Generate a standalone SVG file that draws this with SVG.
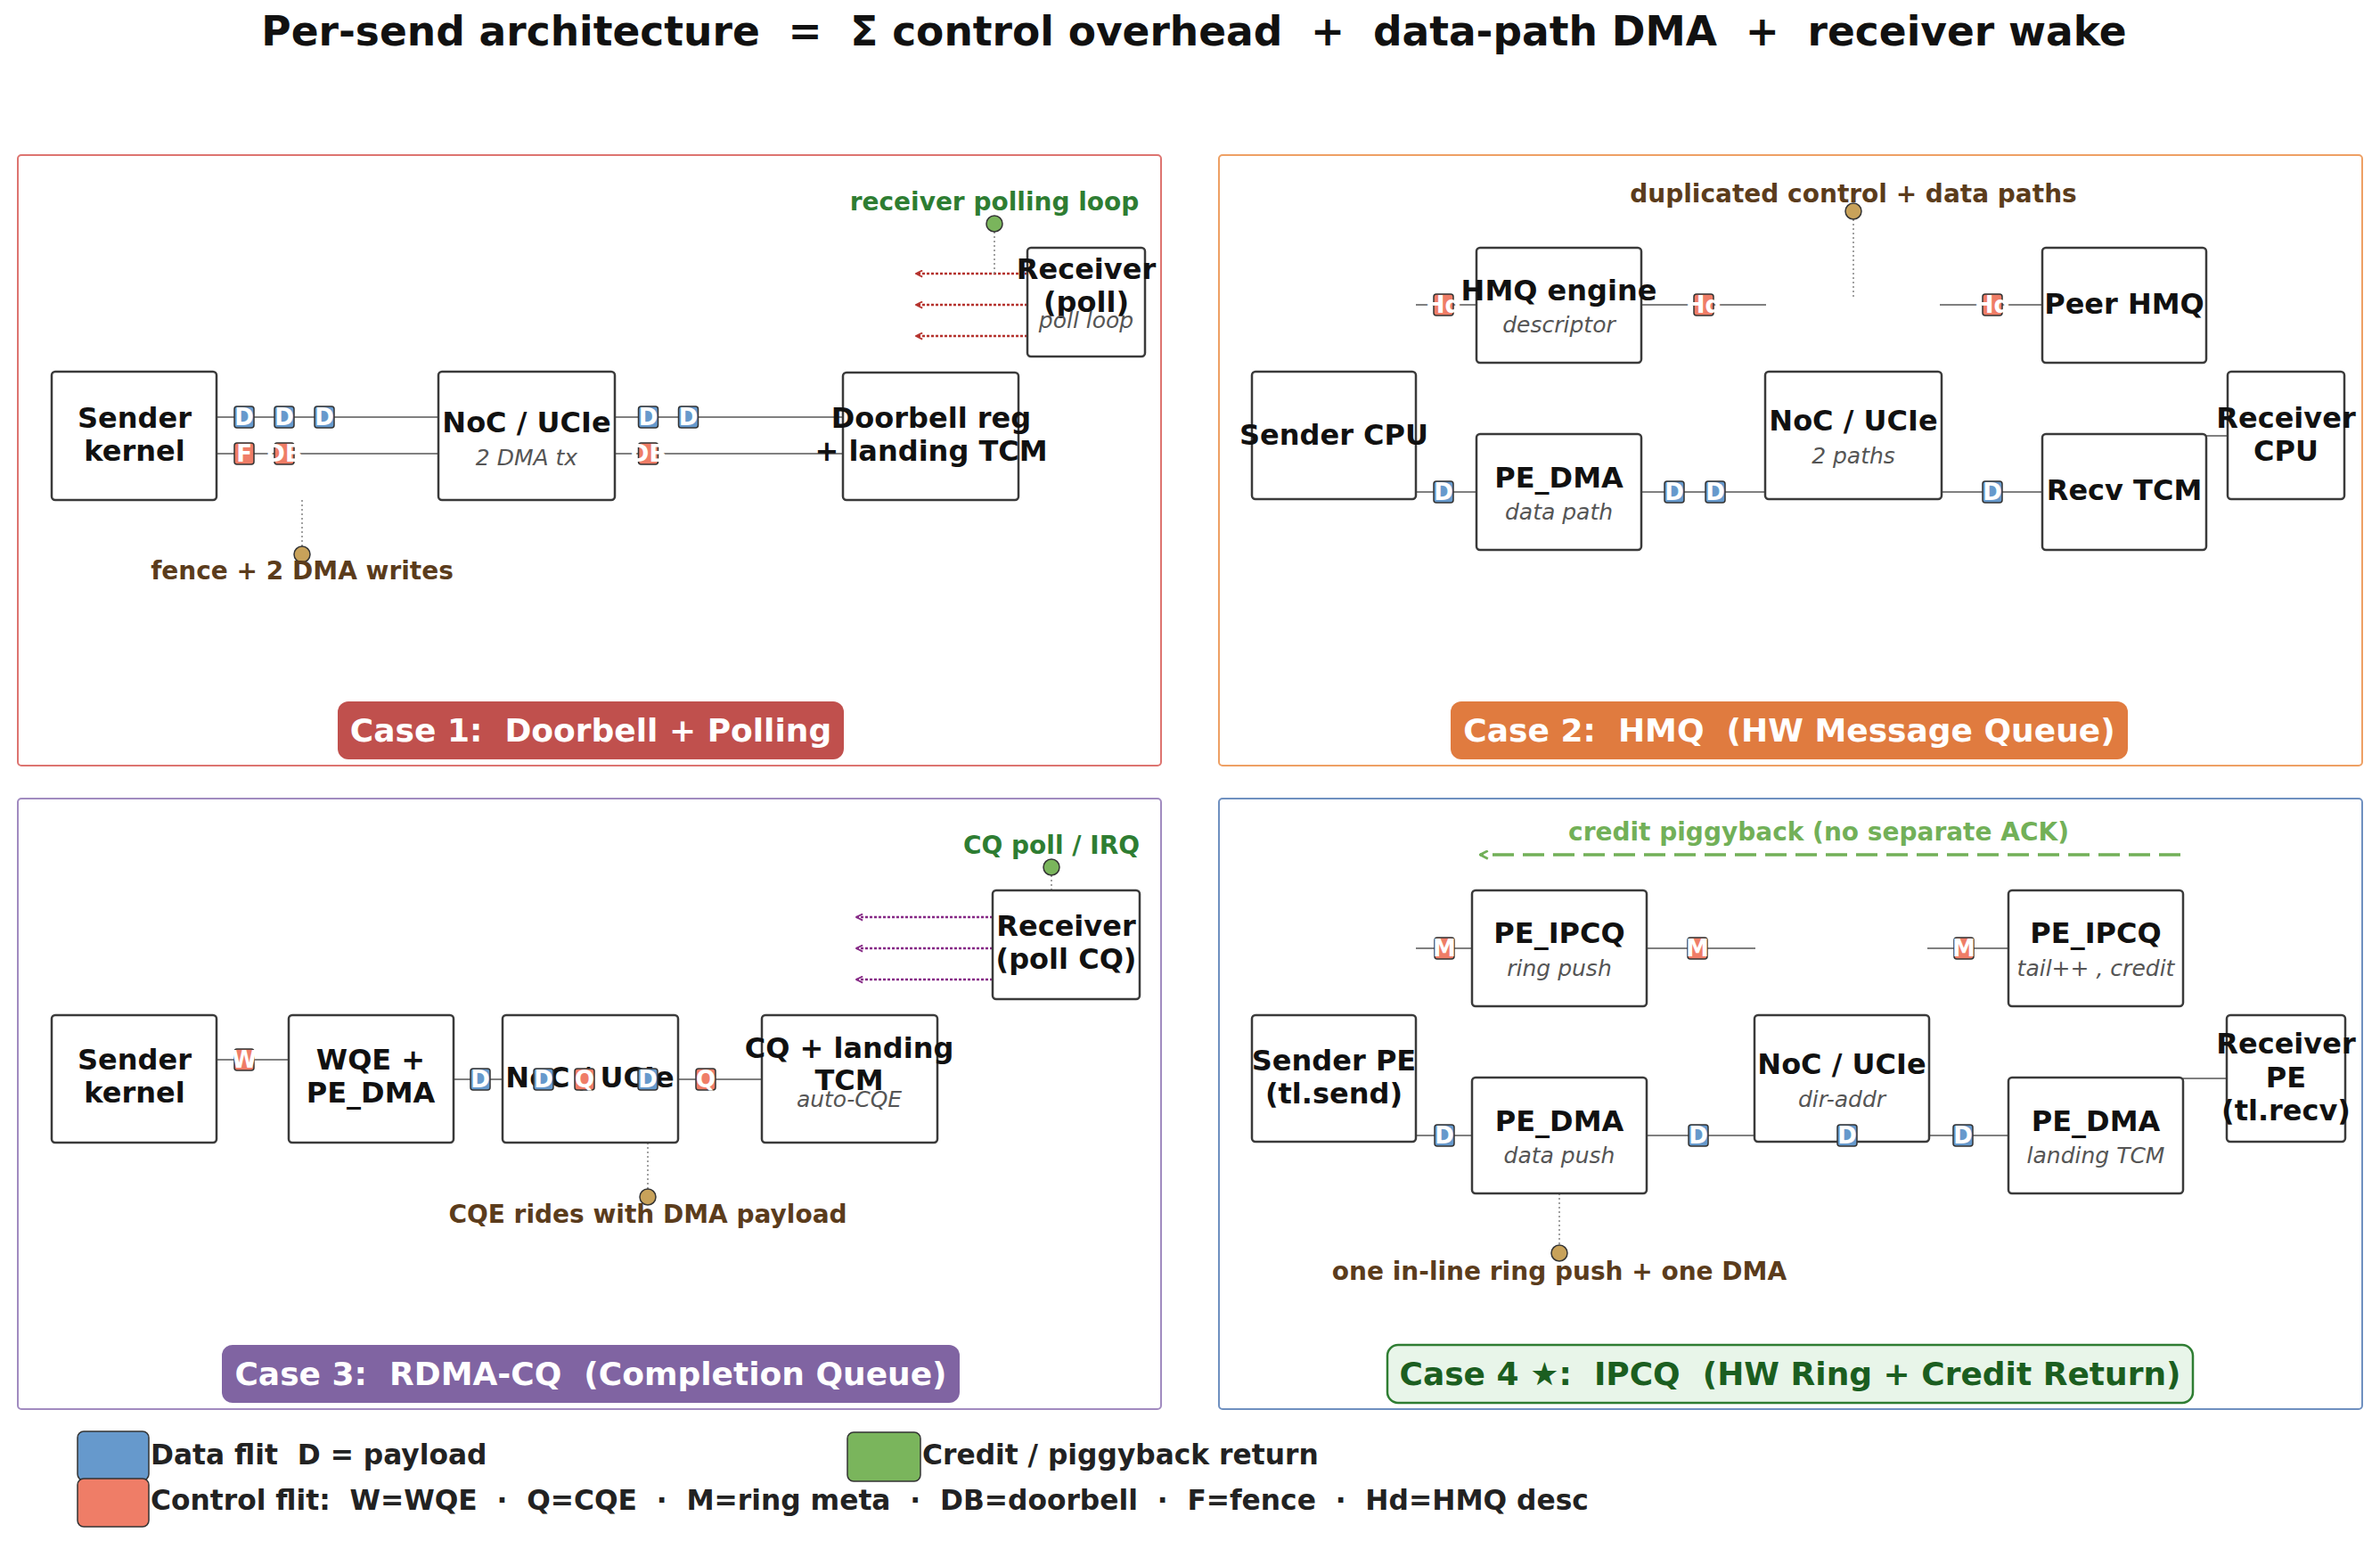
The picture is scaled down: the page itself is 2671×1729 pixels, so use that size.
<svg xmlns="http://www.w3.org/2000/svg" width="2671" height="1729" viewBox="0 0 2671 1729">
<style>
text{font-family:"DejaVu Sans","Liberation Sans",sans-serif;white-space:pre}
.title{font-size:45.5px;font-weight:bold;fill:#111;text-anchor:middle}
.panel{fill:#fff;stroke-width:2}
.node rect{fill:#fff;stroke:#3a3a3a;stroke-width:2.5}
.t{font-size:32px;font-weight:bold;fill:#111;text-anchor:middle}
.s{font-size:25px;font-style:italic;fill:#555;text-anchor:middle}
.wire{stroke:#808080;stroke-width:2.2;fill:none}
.lead{stroke:#8a8a8a;stroke-width:1.6;stroke-dasharray:2 3;fill:none}
.flit rect{stroke:#333;stroke-width:1.5}
.fd rect{fill:#6699cc}
.fc rect{fill:#ef7d67}
.flit text{font-size:26px;font-weight:bold;fill:#fff;text-anchor:middle}
.ann{font-size:28px;font-weight:bold;text-anchor:middle}
.brown{fill:#5b3c1c}
.green{fill:#2e7d32}
.pin{stroke:#333;stroke-width:1.5}
.poll{stroke-width:2.6;stroke-dasharray:3 2;fill:none}
.pill text{font-size:36px;font-weight:bold;fill:#fff;text-anchor:middle}
.leg{font-size:31.3px;font-weight:bold;fill:#222}
</style>
<defs>
<marker id="arR" viewBox="0 0 10 10" refX="9" refY="5" markerWidth="9" markerHeight="9" markerUnits="userSpaceOnUse" orient="auto"><path d="M1,1 L9,5 L1,9" fill="none" stroke="#b5332e" stroke-width="2"/></marker>
<marker id="arP" viewBox="0 0 10 10" refX="9" refY="5" markerWidth="9" markerHeight="9" markerUnits="userSpaceOnUse" orient="auto"><path d="M1,1 L9,5 L1,9" fill="none" stroke="#862a86" stroke-width="2"/></marker>
<marker id="arG" viewBox="0 0 10 10" refX="9" refY="5" markerWidth="11" markerHeight="11" markerUnits="userSpaceOnUse" orient="auto"><path d="M1,1 L9,5 L1,9" fill="none" stroke="#72b058" stroke-width="2.5"/></marker>
</defs>
<rect width="2671" height="1729" fill="#fff"/>
<text class="title" x="1340" y="51">Per-send architecture  =  Σ control overhead  +  data-path DMA  +  receiver wake</text>

<g id="panels">
<rect class="panel" x="20" y="174" width="1283" height="685" rx="4" stroke="#dd7470"/>
<rect class="panel" x="1368" y="174" width="1283" height="685" rx="4" stroke="#eea064"/>
<rect class="panel" x="20" y="896" width="1283" height="685" rx="4" stroke="#a18bc0"/>
<rect class="panel" x="1368" y="896" width="1283" height="685" rx="4" stroke="#6f90c0"/>
</g>

<g id="connectors">
<path class="wire" d="M243,468H492M690,468H946M243,509H492M690,509H946"/>
<line class="poll" stroke="#b5332e" x1="1153" y1="307" x2="1028" y2="307" marker-end="url(#arR)"/>
<line class="poll" stroke="#b5332e" x1="1153" y1="342" x2="1028" y2="342" marker-end="url(#arR)"/>
<line class="poll" stroke="#b5332e" x1="1153" y1="377" x2="1028" y2="377" marker-end="url(#arR)"/>
<path class="lead" d="M339,561V613M1116,260V307"/>
<path class="wire" d="M1589,342H1657M1842,342H1982M2177,342H2292M1589,552H1657M1842,552H1981M2179,552H2292M2476,489H2500"/>
<path class="lead" d="M2080,246V333"/>
<path class="wire" d="M243,1189H324M509,1211H564M761,1211H855"/>
<line class="poll" stroke="#862a86" x1="1114" y1="1029" x2="961" y2="1029" marker-end="url(#arP)"/>
<line class="poll" stroke="#862a86" x1="1114" y1="1064" x2="961" y2="1064" marker-end="url(#arP)"/>
<line class="poll" stroke="#862a86" x1="1114" y1="1099" x2="961" y2="1099" marker-end="url(#arP)"/>
<path class="lead" d="M727,1282V1334M1180,982V1028"/>
<path class="wire" d="M1589,1064H1652M1848,1064H1970M2163,1064H2254M1589,1274H1652M1848,1274H1969M2165,1274H2254M2450,1210H2499"/>
<line x1="2447" y1="959" x2="1661" y2="959" stroke="#72b058" stroke-width="3.5" stroke-dasharray="24 10" marker-end="url(#arG)"/>
<path class="lead" d="M1750,1339V1397"/>
</g>

<g id="nodes">
<g id="p1-sender" class="node"><rect x="58" y="417" width="185" height="144" rx="4"/><text class="t" x="151" y="480">Sender</text><text class="t" x="151" y="517">kernel</text></g>
<g id="p1-noc" class="node"><rect x="492" y="417" width="198" height="144" rx="4"/><text class="t" x="591" y="485">NoC / UCIe</text><text class="s" x="591" y="522">2 DMA tx</text></g>
<g id="p1-doorbell" class="node"><rect x="946" y="418" width="197" height="143" rx="4"/><text class="t" x="1045" y="480">Doorbell reg</text><text class="t" x="1045" y="517">+ landing TCM</text></g>
<g id="p1-receiver" class="node"><rect x="1153" y="278" width="132" height="122" rx="4"/><text class="t" x="1219" y="313">Receiver</text><text class="t" x="1219" y="350">(poll)</text><text class="s" x="1219" y="368">poll loop</text></g>

<g id="p2-sender" class="node"><rect x="1405" y="417" width="184" height="143" rx="4"/><text class="t" x="1497" y="499">Sender CPU</text></g>
<g id="p2-hmq" class="node"><rect x="1657" y="278" width="185" height="129" rx="4"/><text class="t" x="1749.5" y="337">HMQ engine</text><text class="s" x="1749.5" y="373">descriptor</text></g>
<g id="p2-pedma" class="node"><rect x="1657" y="487" width="185" height="130" rx="4"/><text class="t" x="1749.5" y="547">PE_DMA</text><text class="s" x="1749.5" y="583">data path</text></g>
<g id="p2-noc" class="node"><rect x="1981" y="417" width="198" height="143" rx="4"/><text class="t" x="2080" y="483">NoC / UCIe</text><text class="s" x="2080" y="520">2 paths</text></g>
<g id="p2-peer" class="node"><rect x="2292" y="278" width="184" height="129" rx="4"/><text class="t" x="2384" y="352">Peer HMQ</text></g>
<g id="p2-recvtcm" class="node"><rect x="2292" y="487" width="184" height="130" rx="4"/><text class="t" x="2384" y="561">Recv TCM</text></g>
<g id="p2-receiver" class="node"><rect x="2500" y="417" width="131" height="143" rx="4"/><text class="t" x="2565.5" y="480">Receiver</text><text class="t" x="2565.5" y="517">CPU</text></g>

<g id="p3-sender" class="node"><rect x="58" y="1139" width="185" height="143" rx="4"/><text class="t" x="151" y="1200">Sender</text><text class="t" x="151" y="1237">kernel</text></g>
<g id="p3-wqe" class="node"><rect x="324" y="1139" width="185" height="143" rx="4"/><text class="t" x="416" y="1200">WQE +</text><text class="t" x="416" y="1237">PE_DMA</text></g>
<g id="p3-noc" class="node"><rect x="564" y="1139" width="197" height="143" rx="4"/><text class="t" x="662" y="1220">NoC / UCIe</text></g>
<g id="p3-cq" class="node"><rect x="855" y="1139" width="197" height="143" rx="4"/><text class="t" x="953" y="1187">CQ + landing</text><text class="t" x="953" y="1223">TCM</text><text class="s" x="953" y="1242">auto-CQE</text></g>
<g id="p3-receiver" class="node"><rect x="1114" y="999" width="165" height="122" rx="4"/><text class="t" x="1196.5" y="1050">Receiver</text><text class="t" x="1196.5" y="1087">(poll CQ)</text></g>

<g id="p4-sender" class="node"><rect x="1405" y="1139" width="184" height="142" rx="4"/><text class="t" x="1497" y="1201">Sender PE</text><text class="t" x="1497" y="1238">(tl.send)</text></g>
<g id="p4-ipcq-l" class="node"><rect x="1652" y="999" width="196" height="130" rx="4"/><text class="t" x="1750" y="1058">PE_IPCQ</text><text class="s" x="1750" y="1095">ring push</text></g>
<g id="p4-pedma-l" class="node"><rect x="1652" y="1209" width="196" height="130" rx="4"/><text class="t" x="1750" y="1269">PE_DMA</text><text class="s" x="1750" y="1305">data push</text></g>
<g id="p4-noc" class="node"><rect x="1969" y="1139" width="196" height="142" rx="4"/><text class="t" x="2067" y="1205">NoC / UCIe</text><text class="s" x="2067" y="1242">dir-addr</text></g>
<g id="p4-ipcq-r" class="node"><rect x="2254" y="999" width="196" height="130" rx="4"/><text class="t" x="2352" y="1058">PE_IPCQ</text><text class="s" x="2352" y="1095">tail++ , credit</text></g>
<g id="p4-pedma-r" class="node"><rect x="2254" y="1209" width="196" height="130" rx="4"/><text class="t" x="2352" y="1269">PE_DMA</text><text class="s" x="2352" y="1305">landing TCM</text></g>
<g id="p4-receiver" class="node"><rect x="2499" y="1139" width="133" height="142" rx="4"/><text class="t" x="2565.5" y="1182">Receiver</text><text class="t" x="2565.5" y="1220">PE</text><text class="t" x="2565.5" y="1257">(tl.recv)</text></g>
</g>

<g id="flits">
<g class="flit fd" transform="translate(274,468)"><rect x="-11" y="-12" width="22" height="24" rx="3"/><text y="9">D</text></g>
<g class="flit fd" transform="translate(319,468)"><rect x="-11" y="-12" width="22" height="24" rx="3"/><text y="9">D</text></g>
<g class="flit fd" transform="translate(364,468)"><rect x="-11" y="-12" width="22" height="24" rx="3"/><text y="9">D</text></g>
<g class="flit fc" transform="translate(274,509)"><rect x="-11" y="-12" width="22" height="24" rx="3"/><text y="9">F</text></g>
<g class="flit fc" transform="translate(319,509)"><rect x="-11" y="-12" width="22" height="24" rx="3"/><text y="9">DB</text></g>
<g class="flit fd" transform="translate(727.5,468)"><rect x="-11" y="-12" width="22" height="24" rx="3"/><text y="9">D</text></g>
<g class="flit fd" transform="translate(772.5,468)"><rect x="-11" y="-12" width="22" height="24" rx="3"/><text y="9">D</text></g>
<g class="flit fc" transform="translate(727.5,509)"><rect x="-11" y="-12" width="22" height="24" rx="3"/><text y="9">DB</text></g>

<g class="flit fc" transform="translate(1620,342)"><rect x="-11" y="-12" width="22" height="24" rx="3"/><text y="9">Hd</text></g>
<g class="flit fc" transform="translate(1912,342)"><rect x="-11" y="-12" width="22" height="24" rx="3"/><text y="9">Hd</text></g>
<g class="flit fc" transform="translate(2236,342)"><rect x="-11" y="-12" width="22" height="24" rx="3"/><text y="9">Hd</text></g>
<g class="flit fd" transform="translate(1620,552)"><rect x="-11" y="-12" width="22" height="24" rx="3"/><text y="9">D</text></g>
<g class="flit fd" transform="translate(1879,552)"><rect x="-11" y="-12" width="22" height="24" rx="3"/><text y="9">D</text></g>
<g class="flit fd" transform="translate(1925,552)"><rect x="-11" y="-12" width="22" height="24" rx="3"/><text y="9">D</text></g>
<g class="flit fd" transform="translate(2236,552)"><rect x="-11" y="-12" width="22" height="24" rx="3"/><text y="9">D</text></g>

<g class="flit fc" transform="translate(274,1189)"><rect x="-11" y="-12" width="22" height="24" rx="3"/><text y="9">W</text></g>
<g class="flit fd" transform="translate(539,1211)"><rect x="-11" y="-12" width="22" height="24" rx="3"/><text y="9">D</text></g>
<g class="flit fd" transform="translate(610,1211)"><rect x="-11" y="-12" width="22" height="24" rx="3"/><text y="9">D</text></g>
<g class="flit fc" transform="translate(656,1211)"><rect x="-11" y="-12" width="22" height="24" rx="3"/><text y="9">Q</text></g>
<g class="flit fd" transform="translate(727,1211)"><rect x="-11" y="-12" width="22" height="24" rx="3"/><text y="9">D</text></g>
<g class="flit fc" transform="translate(792,1211)"><rect x="-11" y="-12" width="22" height="24" rx="3"/><text y="9">Q</text></g>

<g class="flit fc" transform="translate(1621,1064)"><rect x="-11" y="-12" width="22" height="24" rx="3"/><text y="9">M</text></g>
<g class="flit fc" transform="translate(1905,1064)"><rect x="-11" y="-12" width="22" height="24" rx="3"/><text y="9">M</text></g>
<g class="flit fc" transform="translate(2204,1064)"><rect x="-11" y="-12" width="22" height="24" rx="3"/><text y="9">M</text></g>
<g class="flit fd" transform="translate(1621,1274)"><rect x="-11" y="-12" width="22" height="24" rx="3"/><text y="9">D</text></g>
<g class="flit fd" transform="translate(1906,1274)"><rect x="-11" y="-12" width="22" height="24" rx="3"/><text y="9">D</text></g>
<g class="flit fd" transform="translate(2073,1274)"><rect x="-11" y="-12" width="22" height="24" rx="3"/><text y="9">D</text></g>
<g class="flit fd" transform="translate(2203,1274)"><rect x="-11" y="-12" width="22" height="24" rx="3"/><text y="9">D</text></g>
</g>

<g id="annotations">
<circle class="pin" cx="339" cy="622" r="9" fill="#c8a25a"/>
<text class="ann brown" x="339" y="650">fence + 2 DMA writes</text>
<circle class="pin" cx="1116" cy="251" r="9" fill="#7ab55c"/>
<text class="ann green" x="1116" y="236">receiver polling loop</text>
<circle class="pin" cx="2080" cy="237" r="9" fill="#c8a25a"/>
<text class="ann brown" x="2080" y="227">duplicated control + data paths</text>
<circle class="pin" cx="727" cy="1343" r="9" fill="#c8a25a"/>
<text class="ann brown" x="727" y="1372">CQE rides with DMA payload</text>
<circle class="pin" cx="1180" cy="973" r="9" fill="#7ab55c"/>
<text class="ann green" x="1180" y="958">CQ poll / IRQ</text>
<text class="ann" x="2041" y="943" fill="#72b058">credit piggyback (no separate ACK)</text>
<circle class="pin" cx="1750" cy="1406" r="9" fill="#c8a25a"/>
<text class="ann brown" x="1750" y="1436">one in-line ring push + one DMA</text>
</g>

<g id="captions" class="pill">
<rect x="379" y="787" width="568" height="65" rx="12" fill="#c0504d"/>
<text x="663" y="832">Case 1:  Doorbell + Polling</text>
<rect x="1628" y="787" width="760" height="65" rx="12" fill="#e07b3f"/>
<text x="2008" y="832">Case 2:  HMQ  (HW Message Queue)</text>
<rect x="249" y="1509" width="828" height="65" rx="12" fill="#8064a2"/>
<text x="663" y="1554">Case 3:  RDMA-CQ  (Completion Queue)</text>
<rect x="1557" y="1509" width="904" height="65" rx="12" fill="#e8f5e9" stroke="#2e7d32" stroke-width="2.5"/>
<text x="2009" y="1554" style="fill:#1b5e20">Case 4 ★:  IPCQ  (HW Ring + Credit Return)</text>
</g>

<g id="legend">
<rect x="87" y="1606" width="80" height="55" rx="7" fill="#6699cc" stroke="#333" stroke-width="1.5"/>
<rect x="87" y="1659" width="80" height="54" rx="7" fill="#ef7d67" stroke="#333" stroke-width="1.5"/>
<rect x="951" y="1607" width="82" height="55" rx="7" fill="#7ab55c" stroke="#333" stroke-width="1.5"/>
<text class="leg" x="169" y="1643">Data flit  D = payload</text>
<text class="leg" x="1035" y="1643">Credit / piggyback return</text>
<text class="leg" x="169" y="1694">Control flit:  W=WQE  ·  Q=CQE  ·  M=ring meta  ·  DB=doorbell  ·  F=fence  ·  Hd=HMQ desc</text>
</g>
</svg>
